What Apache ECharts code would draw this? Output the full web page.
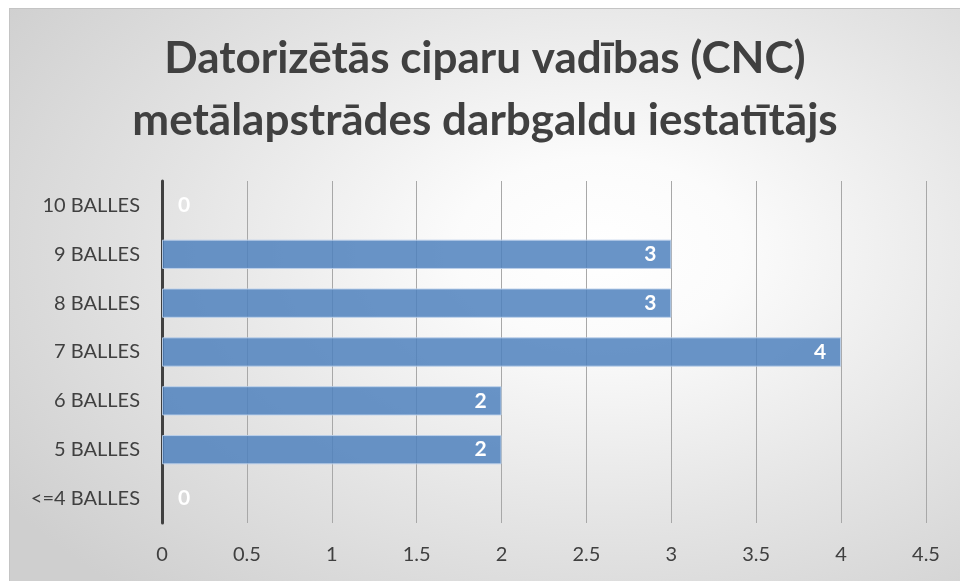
<!DOCTYPE html>
<html>
<head>
<meta charset="utf-8">
<script src="https://cdn.jsdelivr.net/npm/echarts@6/dist/echarts.min.js"></script>
<style>
  html, body { margin: 0; padding: 0; background: #ffffff; }
  #frame {
    position: absolute; left: 9px; top: 8px; width: 951px; height: 573px;
    border-top: 1px solid #c4c4c4; border-left: 1px solid #c4c4c4;
    box-sizing: border-box;
    background: radial-gradient(ellipse 75% 80% at 62% 42%, #ffffff 0%, #fbfbfb 20%, #e4e4e4 60%, #cfcfcf 100%);
  }
  #chart { width: 100%; height: 100%; }
</style>
</head>
<body>
<div id="frame"><div id="chart"></div></div>
<script>
// Score bands (bottom to top) and number of people in each
const categories = ['<=4 BALLES', '5 BALLES', '6 BALLES', '7 BALLES', '8 BALLES', '9 BALLES', '10 BALLES'];
const counts = [0, 2, 2, 4, 3, 3, 0];
const xTicks = { min: 0, max: 4.5, interval: 0.5 };
const titleText = 'Datorizētās ciparu vadības (CNC)\nmetālapstrādes darbgaldu iestatītājs';

const font = 'Lato, "Open Sans", sans-serif';

const chart = echarts.init(document.getElementById('chart'), null, { renderer: 'canvas' });

// empty bands get no outline and their "0" label sits just right of the axis
const seriesData = counts.map(v => v === 0
  ? { value: v, itemStyle: { borderWidth: 0 }, label: { position: 'right', distance: 16 } }
  : { value: v });

chart.setOption({
  backgroundColor: 'transparent',
  animation: false,
  title: {
    text: titleText,
    left: 'center',
    top: 14,
    textStyle: {
      fontFamily: font, fontWeight: 'bold', fontSize: 44,
      color: '#404040', lineHeight: 62
    }
  },
  grid: { left: 152, right: 34, top: 172, bottom: 58, containLabel: false },
  xAxis: {
    type: 'value',
    min: xTicks.min, max: xTicks.max, interval: xTicks.interval,
    axisLine: { show: false },
    axisTick: { show: false },
    splitLine: { show: true, lineStyle: { color: '#a8a8a8', width: 1 } },
    axisLabel: { color: '#404040', fontFamily: font, fontSize: 20, margin: 22 }
  },
  yAxis: {
    type: 'category',
    data: categories,
    axisLine: { show: true, lineStyle: { color: '#404040', width: 3 } },
    axisTick: { show: false },
    axisLabel: { color: '#404040', fontFamily: font, fontSize: 20, margin: 22 }
  },
  series: [{
    type: 'bar',
    data: seriesData,
    barCategoryGap: '40%',
    itemStyle: {
      color: 'rgba(79,129,189,0.85)',
      borderColor: 'rgba(190,210,235,0.9)',
      borderWidth: 1
    },
    label: {
      show: true,
      position: 'insideRight',
      distance: 15,
      color: '#ffffff',
      fontFamily: font,
      fontWeight: 'bold',
      fontSize: 21
    }
  }]
});
</script>
</body>
</html>
